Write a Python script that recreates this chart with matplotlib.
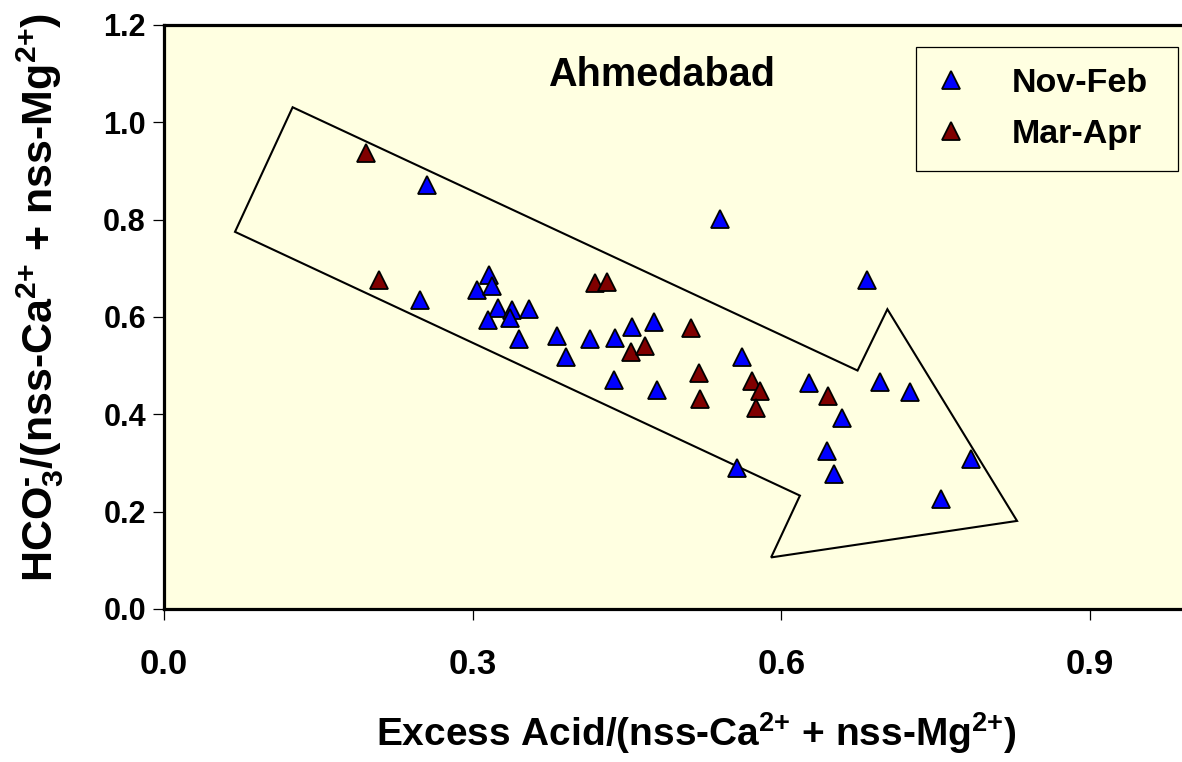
import matplotlib
matplotlib.use("Agg")
import matplotlib.pyplot as plt
from matplotlib import font_manager
from matplotlib.patches import Polygon

# ---- data ----
nov_feb_x = [0.256, 0.249, 0.316, 0.304, 0.319, 0.325, 0.338, 0.336, 0.355, 0.315,
             0.345, 0.382, 0.391, 0.540, 0.414, 0.438, 0.455, 0.476, 0.437, 0.479,
             0.562, 0.557, 0.683, 0.627, 0.659, 0.644, 0.651, 0.696, 0.725, 0.784, 0.755]
nov_feb_y = [0.871, 0.635, 0.687, 0.656, 0.663, 0.619, 0.614, 0.597, 0.616, 0.594,
             0.555, 0.560, 0.517, 0.802, 0.555, 0.556, 0.580, 0.589, 0.470, 0.451,
             0.518, 0.289, 0.676, 0.464, 0.392, 0.325, 0.277, 0.466, 0.445, 0.308, 0.226]
mar_apr_x = [0.196, 0.209, 0.419, 0.431, 0.454, 0.467, 0.512, 0.520, 0.521,
             0.571, 0.579, 0.575, 0.645]
mar_apr_y = [0.936, 0.676, 0.670, 0.671, 0.529, 0.541, 0.577, 0.484, 0.432,
             0.469, 0.447, 0.414, 0.438]
arrow_x = [0.125, 0.674, 0.703, 0.829, 0.590, 0.618, 0.069]
arrow_y = [1.031, 0.490, 0.616, 0.181, 0.106, 0.233, 0.775]
x_ticks = [0.0, 0.3, 0.6, 0.9]
y_ticks = [0.0, 0.2, 0.4, 0.6, 0.8, 1.0, 1.2]
series_labels = ["Nov-Feb", "Mar-Apr"]
title_text = "Ahmedabad"

names = {f.name for f in font_manager.fontManager.ttflist}
BOLD = "Liberation Sans" if "Liberation Sans" in names else "DejaVu Sans"
NARROW = "Liberation Sans Narrow" if "Liberation Sans Narrow" in names else BOLD

plt.rcParams["mathtext.fontset"] = "custom"
plt.rcParams["mathtext.rm"] = BOLD + ":bold"
plt.rcParams["mathtext.bf"] = BOLD + ":bold"
plt.rcParams["mathtext.it"] = BOLD + ":bold"
plt.rcParams["mathtext.sf"] = BOLD + ":bold"
plt.rcParams["mathtext.default"] = "bf"

W, H = 1182, 762
AXW = W - 164 + 0.01 * W  # axes width in px
fig = plt.figure(figsize=(W / 100, H / 100), dpi=100)
fig.patch.set_facecolor("white")
ax = fig.add_axes([164 / W, 1 - 609 / H, AXW / W, (609 - 25) / H])
ax.set_facecolor("#FFFFE1")
ax.set_xlim(0, AXW / 1029)
ax.set_ylim(0, 1.2)

ax.add_patch(Polygon(list(zip(arrow_x, arrow_y)), closed=True, fill=False,
                     edgecolor="black", linewidth=1.5, zorder=2))

ax.plot(nov_feb_x, nov_feb_y, linestyle="none", marker="^", ms=13.5, mfc="#0000FF",
        mec="black", mew=1.3, zorder=3, label=series_labels[0])
ax.plot(mar_apr_x, mar_apr_y, linestyle="none", marker="^", ms=13.5, mfc="#800000",
        mec="black", mew=1.3, zorder=4, label=series_labels[1])

for s in ["left", "bottom", "top"]:
    ax.spines[s].set_linewidth(2.3)
    ax.spines[s].set_color("black")
ax.spines["right"].set_visible(False)

ax.set_xticks(x_ticks)
ax.set_yticks(y_ticks)
ax.set_xticklabels([f"{v:.1f}" for v in x_ticks], fontfamily=NARROW,
                   fontweight="bold", fontsize=25)
ax.set_yticklabels([f"{v:.1f}" for v in y_ticks], fontfamily=BOLD,
                   fontweight="bold", fontsize=22)
ax.tick_params(axis="x", direction="out", length=8, width=0.9, pad=20)
ax.tick_params(axis="y", direction="out", length=8, width=0.9, pad=5)

ax.set_xlabel(r"Excess Acid/(nss-Ca$^{\text{2+}}$ + nss-Mg$^{\text{2+}}$)",
              fontfamily=NARROW, fontweight="bold", fontsize=28, va="top")
ax.xaxis.set_label_coords((696 - 164) / AXW, -(710 - 609) / 584)
ax.set_ylabel(r"HCO$_{\text{3}}^{\text{-}}$/(nss-Ca$^{\text{2+}}$ + nss-Mg$^{\text{2+}}$)",
              fontfamily=BOLD, fontweight="bold", fontsize=31)
ax.yaxis.set_label_coords(-(164 - 66) / AXW, (609 - 298) / 584)

ax.text((548 - 164) / 1029, (609 - 75) / 486.7, title_text, fontfamily=BOLD,
        fontweight="bold", fontsize=28.5, ha="left", va="center", zorder=5)

leg_top = (609 - 47) / 584
leg_h = 0.2
leg = ax.legend(loc="upper left",
                bbox_to_anchor=((916 - 164) / AXW, leg_top - leg_h,
                                (1178 - 916) / AXW, leg_h),
                mode="expand", borderaxespad=0, frameon=True, fancybox=False,
                edgecolor="black", facecolor="#FFFFE1", framealpha=1,
                markerscale=0.95, handlelength=0.8, handletextpad=1.4,
                borderpad=0.62, labelspacing=0.58,
                prop={"family": BOLD, "weight": "bold", "size": 24.5})
leg.get_frame().set_linewidth(0.9)

fig.savefig("out.png", dpi=100)
